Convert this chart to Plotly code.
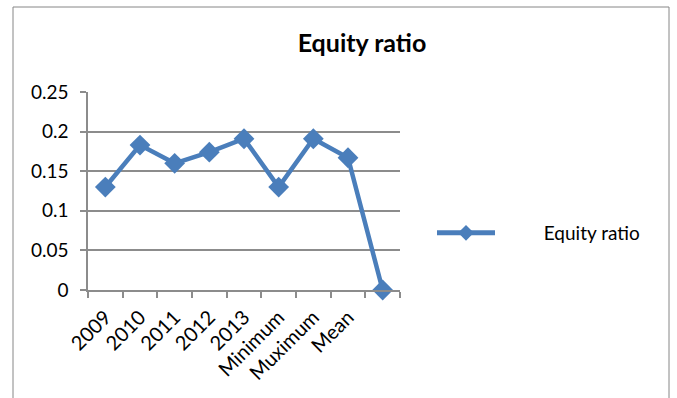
import plotly.graph_objects as go

categories = ["2009", "2010", "2011", "2012", "2013", "Minimum", "Muximum", "Mean", " "]
equity_ratio = [0.13, 0.183, 0.16, 0.174, 0.191, 0.13, 0.191, 0.167, 0.0]
y_ticks = [0, 0.05, 0.1, 0.15, 0.2, 0.25]
y_tick_labels = ["0", "0.05", "0.1", "0.15", "0.2", "0.25"]
series_name = "Equity ratio"

blue = "#4A7EBB"
grid = "#8C8C8C"
font_family = "Lato, 'Open Sans', sans-serif"

fig = go.Figure()
fig.add_trace(go.Scatter(
    x=categories, y=equity_ratio, mode="lines+markers",
    name="\u00a0" * 9 + series_name,
    line=dict(color=blue, width=4.5),
    marker=dict(symbol="diamond", size=16, color=blue),
    cliponaxis=False,
))

L, R, T, B = 88, 400, 92, 290
W, H = 677, 398
def px_x(p):
    return (p - L) / (R - L)
def px_y(p):
    return (B - p) / (B - T)

fig.update_layout(
    width=W, height=H,
    margin=dict(l=L, r=W - R, t=T, b=H - B, autoexpand=False),
    paper_bgcolor="white", plot_bgcolor="white",
    font=dict(family=font_family, size=19, color="black"),
    title=dict(text="<b>Equity ratio</b>", xref="container", x=362 / W, xanchor="center",
               yref="container", y=1 - 43 / H, yanchor="middle", font=dict(size=25)),
    showlegend=True,
    legend=dict(x=px_x(432), y=px_y(233), xanchor="left", yanchor="middle",
                itemwidth=58, itemsizing="constant", font=dict(size=19),
                bgcolor="rgba(0,0,0,0)"),
    shapes=[dict(type="rect", xref="paper", yref="paper",
                 x0=px_x(13), x1=px_x(669), y0=px_y(410), y1=px_y(7),
                 line=dict(color="#868686", width=1))],
)
fig.update_xaxes(
    type="category", tickson="boundaries", ticks="outside", ticklen=6,
    tickcolor=grid, tickwidth=1.5, showline=True, linecolor=grid, linewidth=1.5,
    showgrid=False, tickangle=-45, tickfont=dict(size=20), ticklabelstandoff=6,
    range=[-0.5, len(categories) - 0.5],
)
fig.update_yaxes(
    range=[0, 0.25], tickvals=y_ticks, ticktext=y_tick_labels,
    ticks="outside", ticklen=6, tickcolor=grid, tickwidth=1.5,
    showline=True, linecolor=grid, linewidth=1.5,
    showgrid=True, gridcolor=grid, gridwidth=1.5, zeroline=False,
    tickfont=dict(size=19), ticklabelstandoff=8,
)
fig.write_html("out.html")
